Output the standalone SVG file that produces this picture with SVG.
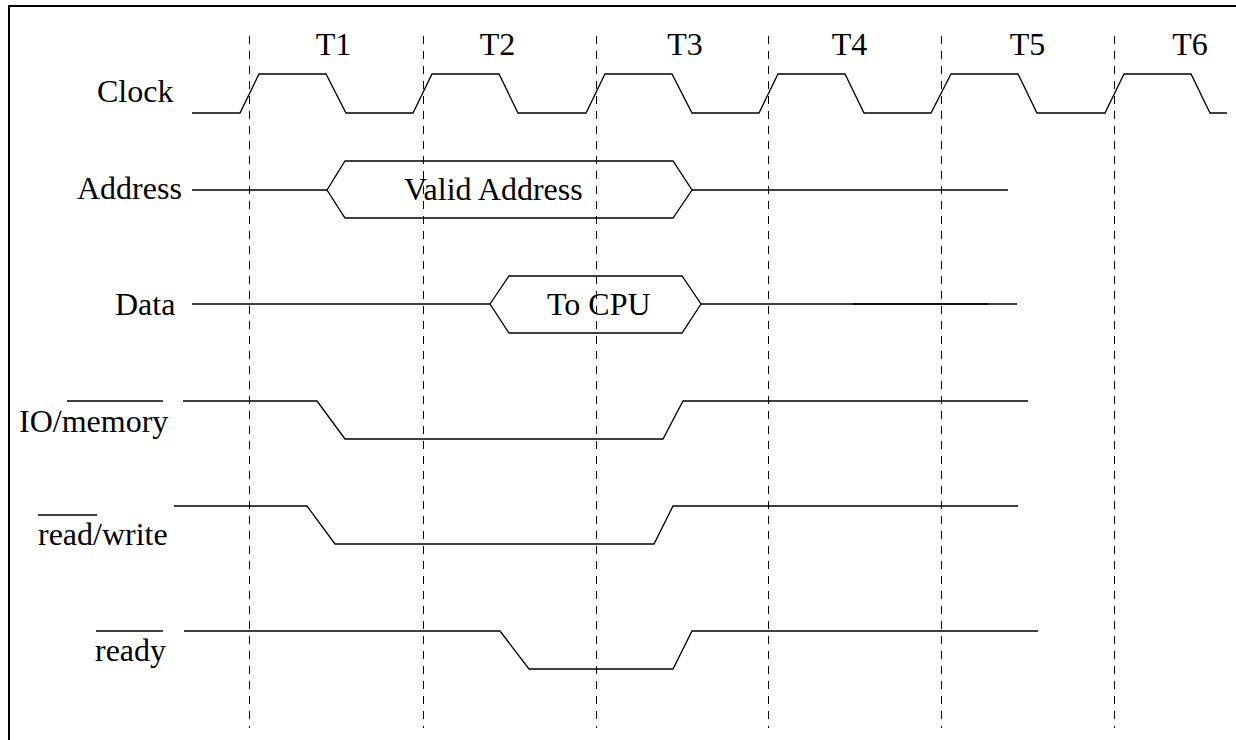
<svg xmlns="http://www.w3.org/2000/svg" width="1236" height="740" viewBox="0 0 1236 740">
  <style>
    .lbl { font-family: "Liberation Serif", "Times New Roman", serif; font-size: 32px; fill: #000; }
    .mid { text-anchor: middle; }
    .sig { fill: none; stroke: #000; stroke-width: 1.3; stroke-linejoin: miter; }
    .grid { fill: none; stroke: #000; stroke-width: 1; stroke-dasharray: 8 7; }
    .bar { stroke: #000; stroke-width: 1.3; }
  </style>
  <rect x="0" y="0" width="1236" height="740" fill="#fff"/>
  <!-- frame (right and bottom edges fall outside the canvas) -->
  <rect x="9" y="6" width="1260" height="760" fill="none" stroke="#000" stroke-width="2"/>

  <!-- clock period boundaries -->
  <g id="grid">
    <line class="grid" x1="249.5" y1="36" x2="249.5" y2="728"/>
    <line class="grid" x1="423.5" y1="36" x2="423.5" y2="728"/>
    <line class="grid" x1="596.5" y1="36" x2="596.5" y2="728"/>
    <line class="grid" x1="768.5" y1="36" x2="768.5" y2="728"/>
    <line class="grid" x1="941.5" y1="36" x2="941.5" y2="728"/>
    <line class="grid" x1="1114.5" y1="36" x2="1114.5" y2="728"/>
  </g>

  <!-- period labels -->
  <g id="periods" class="lbl mid">
    <text x="333.5" y="55">T1</text>
    <text x="497.5" y="55">T2</text>
    <text x="685" y="55">T3</text>
    <text x="849.5" y="55">T4</text>
    <text x="1027.5" y="55">T5</text>
    <text x="1190" y="55">T6</text>
  </g>

  <g id="clock">
    <text class="lbl" x="97" y="102">Clock</text>
    <path class="sig" d="M192 113 H240 L259 74 H326 L346 113 H413 L432 74 H499 L518 113 H586 L605 74 H672 L692 113 H759 L778 74 H845 L864 113 H931 L951 74 H1018 L1037 113 H1105 L1124 74 H1191 L1210 113 H1227"/>
  </g>

  <g id="address">
    <text class="lbl" x="77" y="199">Address</text>
    <path class="sig" d="M192 190 H327 M692 190 H1008"/>
    <polygon class="sig" points="327,190 345,161 673,161 692,190 673,218 345,218"/>
    <text class="lbl" x="404" y="200">Valid Address</text>
  </g>

  <g id="data">
    <text class="lbl" x="115" y="315">Data</text>
    <path class="sig" d="M192 304 H490 M701 304 H1017"/>
    <path class="sig" d="M853 304 H988"/>
    <polygon class="sig" points="490,304 509,276 682,276 701,304 682,333 509,333"/>
    <text class="lbl" x="547" y="315">To CPU</text>
  </g>

  <g id="io-memory">
    <text class="lbl" x="19" y="432">IO/memory</text>
    <line class="bar" x1="67" y1="401" x2="163" y2="401"/>
    <path class="sig" d="M183 401 H317 L345 439 H663 L683 401 H1028"/>
  </g>

  <g id="read-write">
    <text class="lbl" x="38" y="545">read/write</text>
    <line class="bar" x1="38" y1="515" x2="97" y2="515"/>
    <path class="sig" d="M174 506 H307 L335 544 H654 L673 506 H1018"/>
  </g>

  <g id="ready">
    <text class="lbl" x="95" y="661">ready</text>
    <line class="bar" x1="96" y1="631" x2="163" y2="631"/>
    <path class="sig" d="M184 631 H500 L529 669 H673 L692 631 H1038"/>
  </g>
</svg>
